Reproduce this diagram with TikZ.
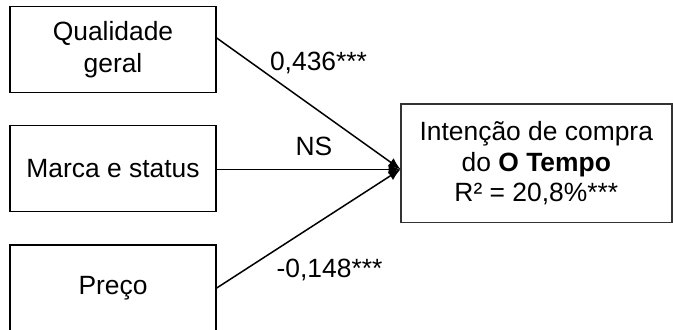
\documentclass[tikz,border=0pt]{standalone}
\usepackage{fontspec}
\setmainfont{Liberation Sans}
\usetikzlibrary{arrows.meta,positioning}

\begin{document}
\begin{tikzpicture}[
    x = 0.5pt, y = -0.5pt, % one unit = one pixel of the reference
    > = {Latex[length=6pt,width=5pt]}, % arrow head style
    line width = 0.75pt
    ]

    \tikzset{box/.style={
    draw = black,
    line width = 0.7pt,
    minimum width = 103pt,
    minimum height = 43pt,
    align = center,
    inner sep = 0pt,
    font = \fontsize{13.2}{16}\selectfont
    }}
    \tikzset{coef/.style={
    inner sep = 0pt,
    font = \fontsize{13.2}{16}\selectfont
    }}

    \useasboundingbox (0,0) rectangle (673,330);
    \clip (0,0) rectangle (673,330);

    \node[box] (qual) at (113,49.7) {Qualidade\\geral};
    \node[box] (marca) at (113,168.3) {Marca e status};
    \node[box] (preco) at (113,288) {Preço};
    \node[box, minimum width = 135.5pt, minimum height = 59.4pt,
          draw = black!80, font = \fontsize{13.2}{15.3}\selectfont]
          (intent) at (536.3,163.4) {Intenção de compra\\do \textbf{O Tempo}\\R² = 20,8\%***};

    \coordinate (tip) at (400.5,169.3);

    \draw[->] ([yshift=5.85pt]qual.east) -- (tip);
    \draw[->] (marca.east |- tip) -- (tip);
    \draw[->] (preco.east) -- (tip);

    \node[coef] (c1) at (318.5,63) {0,436***};
    \node[coef] (c2) at (314,146.5) {NS};
    \node[coef] (c3) at (329.5,270) {-0,148***};
\end{tikzpicture}
\end{document}
